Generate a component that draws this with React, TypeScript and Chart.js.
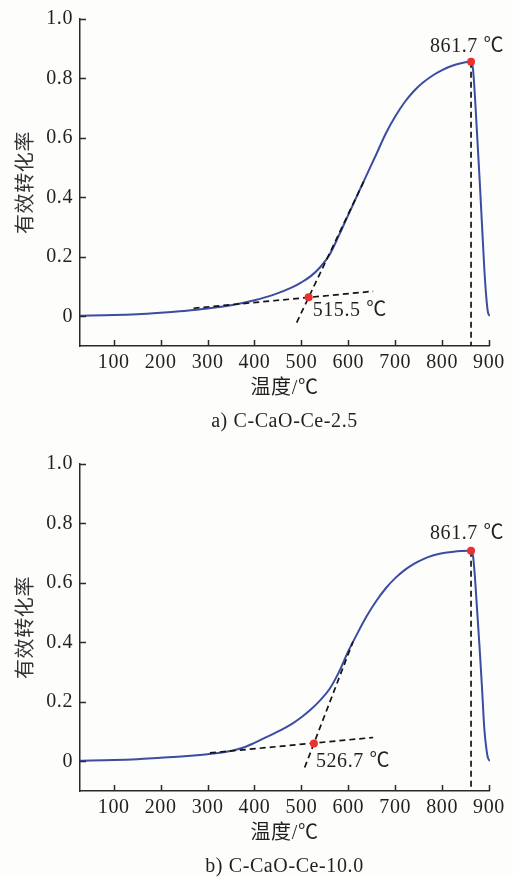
import React, { useEffect, useRef } from 'react';
import { Chart, registerables } from 'chart.js';

Chart.register(...registerables);

// ---------- data ----------
const X_MIN = 28;
const X_MAX = 900;
const Y_MIN = -0.1;
const Y_MAX = 1.0;
const xTicks = [100, 200, 300, 400, 500, 600, 700, 800, 900];
const yTicks = [0, 0.2, 0.4, 0.6, 0.8, 1.0];

const xTitle = '温度/℃';
const yTitle = '有效转化率';

// panel a) C-CaO-Ce-2.5
const captionA = 'a) C-CaO-Ce-2.5';
const tempA = [28, 100, 150, 200, 250, 300, 350, 400, 440, 480, 500, 520, 540, 560, 580, 600, 620, 640, 660, 680, 700, 720, 740, 760, 780, 800, 820, 840, 861.7, 866, 870, 875, 880, 885, 890, 895, 898, 902, 908];
const rateA = [0.002, 0.004, 0.007, 0.012, 0.018, 0.026, 0.037, 0.054, 0.072, 0.097, 0.114, 0.135, 0.165, 0.207, 0.272, 0.341, 0.410, 0.478, 0.546, 0.615, 0.672, 0.720, 0.758, 0.787, 0.810, 0.828, 0.842, 0.851, 0.856, 0.830, 0.740, 0.600, 0.460, 0.310, 0.160, 0.050, 0.012, 0.003, 0.003];
const baseTanTA = [270, 653];
const baseTanVA = [0.027, 0.084];
const steepTanTA = [490, 635];
const steepTanVA = [-0.021, 0.46];
const onsetA = [515.5, 0.064];
const peakA = [861.7, 0.856];

// panel b) C-CaO-Ce-10.0
const captionB = 'b) C-CaO-Ce-10.0';
const tempB = [28, 100, 150, 200, 250, 300, 340, 380, 400, 420, 440, 460, 480, 500, 520, 540, 560, 580, 600, 620, 640, 660, 680, 700, 720, 740, 760, 780, 800, 820, 840, 861.7, 866, 870, 875, 880, 885, 890, 895, 898, 902, 908];
const rateB = [0.002, 0.004, 0.007, 0.012, 0.017, 0.024, 0.032, 0.048, 0.062, 0.077, 0.092, 0.108, 0.126, 0.148, 0.174, 0.205, 0.243, 0.300, 0.370, 0.432, 0.490, 0.540, 0.582, 0.616, 0.643, 0.664, 0.680, 0.692, 0.700, 0.704, 0.707, 0.708, 0.690, 0.620, 0.500, 0.380, 0.250, 0.110, 0.035, 0.010, 0.003, 0.003];
const baseTanTB = [305, 653];
const baseTanVB = [0.028, 0.080];
const steepTanTB = [507, 610];
const steepTanVB = [-0.021, 0.402];
const onsetB = [526.7, 0.06];
const peakB = [861.7, 0.708];

// ---------- styles ----------
const FONT = '"Liberation Serif", "Times New Roman", "Noto Sans CJK SC", serif';
const TEXT = '#231f20';
const AXIS = '#2a2a2a';
const CURVE = '#3b4ca2';
const DOT = '#e8322b';

const toXY = (xs: number[], ys: number[]) => xs.map((x, i) => ({ x, y: ys[i] }));

const textSpacing = {
  id: 'textSpacing',
  beforeDraw(chart: any) {
    if ('letterSpacing' in chart.ctx) chart.ctx.letterSpacing = '0.6px';
  },
};

const inwardTicks = {
  id: 'inwardTicks',
  afterDraw(chart: any) {
    const { ctx, chartArea, scales } = chart;
    ctx.save();
    ctx.strokeStyle = AXIS;
    ctx.lineWidth = 1.5;
    ctx.beginPath();
    for (const v of xTicks) {
      const px = Math.round(scales.x.getPixelForValue(v)) + 0.5;
      ctx.moveTo(px, chartArea.bottom);
      ctx.lineTo(px, chartArea.bottom - 6);
    }
    for (const v of yTicks) {
      const py = Math.round(scales.y.getPixelForValue(v)) + 0.5;
      ctx.moveTo(chartArea.left, py);
      ctx.lineTo(chartArea.left + 6, py);
    }
    ctx.stroke();
    ctx.restore();
  },
};

const pointLabels = {
  id: 'pointLabels',
  afterDatasetsDraw(chart: any, _args: any, opts: any) {
    const { ctx, scales } = chart;
    ctx.save();
    ctx.font = '20px ' + FONT;
    ctx.fillStyle = TEXT;
    ctx.textBaseline = 'middle';
    for (const l of opts.items || []) {
      ctx.textAlign = l.align;
      ctx.fillText(l.text, scales.x.getPixelForValue(l.t) + l.dx, scales.y.getPixelForValue(l.v) + l.dy);
    }
    ctx.restore();
  },
};

type Panel = {
  caption: string;
  temp: number[];
  rate: number[];
  baseT: number[];
  baseV: number[];
  steepT: number[];
  steepV: number[];
  onset: number[];
  peak: number[];
  onsetOff: [number, number];
  peakOff: [number, number];
};

function makeConfig(p: Panel): any {
  const dashed = {
    borderColor: '#141414',
    borderWidth: 1.7,
    borderDash: [6, 4],
    pointRadius: 0,
    fill: false,
  };
  return {
    type: 'line',
    data: {
      datasets: [
        {
          data: [
            { x: p.onset[0], y: p.onset[1] },
            { x: p.peak[0], y: p.peak[1] },
          ],
          showLine: false,
          pointRadius: 4,
          pointBorderWidth: 0,
          pointBackgroundColor: DOT,
        },
        { ...dashed, data: toXY(p.steepT, p.steepV) },
        { ...dashed, data: toXY(p.baseT, p.baseV) },
        {
          ...dashed,
          data: [
            { x: p.peak[0], y: p.peak[1] },
            { x: p.peak[0], y: Y_MIN },
          ],
        },
        {
          data: toXY(p.temp, p.rate),
          borderColor: CURVE,
          borderWidth: 2,
          pointRadius: 0,
          cubicInterpolationMode: 'monotone',
          clip: false,
          fill: false,
        },
      ],
    },
    options: {
      animation: false,
      responsive: false,
      maintainAspectRatio: false,
      events: [],
      layout: { padding: { top: 14, right: 24, bottom: 6, left: 0 } },
      font: { family: FONT },
      plugins: {
        legend: { display: false },
        tooltip: { enabled: false },
        title: {
          display: true,
          position: 'bottom',
          fullSize: false,
          text: p.caption,
          color: TEXT,
          font: { family: FONT, size: 20, weight: 'normal' },
          padding: { top: 4, bottom: 0 },
        },
        pointLabels: {
          items: [
            { text: `${p.onset[0].toFixed(1)} ℃`, t: p.onset[0], v: p.onset[1], dx: p.onsetOff[0], dy: p.onsetOff[1], align: 'left' },
            { text: `${p.peak[0].toFixed(1)} ℃`, t: p.peak[0], v: p.peak[1], dx: p.peakOff[0], dy: p.peakOff[1], align: 'center' },
          ],
        },
      },
      scales: {
        x: {
          type: 'linear',
          min: X_MIN,
          max: X_MAX,
          afterBuildTicks: (s: any) => {
            s.ticks = xTicks.map((value) => ({ value }));
          },
          afterFit: (s: any) => {
            s.height = 60;
          },
          grid: { display: false, drawTicks: false },
          border: { display: true, color: AXIS, width: 1.5 },
          ticks: {
            padding: 5,
            color: TEXT,
            autoSkip: false,
            maxRotation: 0,
            font: { family: FONT, size: 20 },
            callback: (v: any) => String(v),
          },
          title: {
            display: true,
            text: xTitle,
            color: TEXT,
            font: { family: FONT, size: 20 },
            padding: { top: 0, bottom: 5 },
          },
        },
        y: {
          type: 'linear',
          min: Y_MIN,
          max: Y_MAX,
          afterBuildTicks: (s: any) => {
            s.ticks = yTicks.map((value) => ({ value }));
          },
          afterFit: (s: any) => {
            s.width = 80;
          },
          grid: { display: false, drawTicks: false },
          border: { display: true, color: AXIS, width: 1.5 },
          ticks: {
            padding: 7,
            color: TEXT,
            autoSkip: false,
            font: { family: FONT, size: 20 },
            callback: (v: any) => (v === 0 ? '0' : Number(v).toFixed(1)),
          },
          title: {
            display: true,
            text: yTitle,
            color: '#333',
            font: { family: FONT, size: 20 },
            padding: { top: 15, bottom: 0 },
          },
        },
      },
    },
    plugins: [textSpacing, inwardTicks, pointLabels],
  };
}

const panelA: Panel = {
  caption: captionA,
  temp: tempA,
  rate: rateA,
  baseT: baseTanTA,
  baseV: baseTanVA,
  steepT: steepTanTA,
  steepV: steepTanVA,
  onset: onsetA,
  peak: peakA,
  onsetOff: [4, 14],
  peakOff: [-4, -15],
};

const panelB: Panel = {
  caption: captionB,
  temp: tempB,
  rate: rateB,
  baseT: baseTanTB,
  baseV: baseTanVB,
  steepT: steepTanTB,
  steepV: steepTanVB,
  onset: onsetB,
  peak: peakB,
  onsetOff: [2, 18],
  peakOff: [-4, -17],
};

function ChartCanvas({ panel, top }: { panel: Panel; top: number }) {
  const ref = useRef<HTMLCanvasElement | null>(null);
  useEffect(() => {
    if (!ref.current) return;
    const chart = new Chart(ref.current, makeConfig(panel));
    return () => chart.destroy();
  }, [panel]);
  return (
    <canvas
      ref={ref}
      width={513}
      height={440}
      style={{ position: 'absolute', left: 0, top, width: 513, height: 440 }}
    />
  );
}

export default function App() {
  return (
    <div
      style={{
        position: 'fixed',
        left: 0,
        top: 0,
        width: 513,
        height: 877,
        overflow: 'hidden',
        background: '#fdfdfc',
      }}
    >
      <ChartCanvas panel={panelA} top={0} />
      <ChartCanvas panel={panelB} top={445} />
    </div>
  );
}
